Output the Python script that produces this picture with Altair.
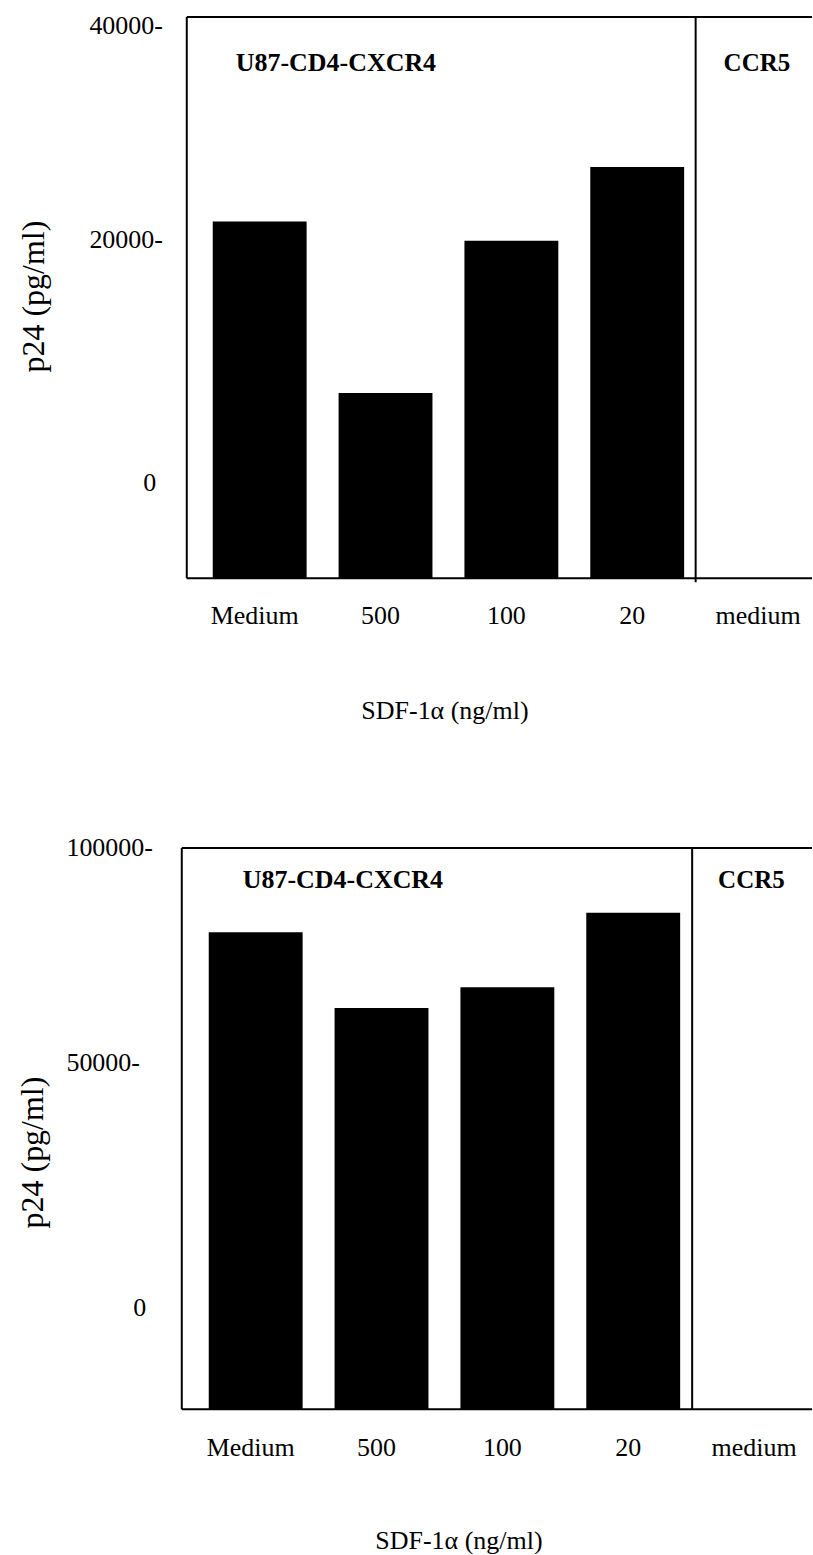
import altair as alt
import pandas as pd

# ---- data ----
CATEGORIES = ["Medium", "500", "100", "20", "medium"]
BAR_CATEGORIES = ["Medium", "500", "100", "20"]
TOP_P24 = [21700, 5700, 19900, 26800]
BOTTOM_P24 = [80400, 62800, 67600, 84900]
TOP_TICKS = [0, 20000, 40000]
TOP_TICK_LABELS = ["0", "20000-", "40000-"]
BOTTOM_TICKS = [0, 50000, 100000]
BOTTOM_TICK_LABELS = ["0", "50000-", "100000-"]
PANEL_LABELS = ["U87-CD4-CXCR4", "CCR5"]
X_TITLE = "SDF-1\u03b1 (ng/ml)"
Y_TITLE = "p24 (pg/ml)"

FONT = "Liberation Serif"
W = 631
H = 562
DUMMY = pd.DataFrame({"k": [0]})


def label_expr(ticks, labels):
    expr = "''"
    for t, l in zip(ticks, labels):
        expr = f"datum.value == {t} ? '{l}' : ({expr})"
    return expr


def rule(**enc):
    return alt.Chart(DUMMY).mark_rule(color="black", strokeWidth=2).encode(
        **{k: alt.value(v) for k, v in enc.items()}
    )


def text(label, x, y, size):
    return alt.Chart(DUMMY).mark_text(
        text=label, font=FONT, fontSize=size, fontWeight="bold",
        align="left", baseline="alphabetic", color="black",
    ).encode(x=alt.value(x), y=alt.value(y))


def panel(values, ticks, labels, domain, x_range, xlab_offset, xlab_pad,
          xtitle_xy, ytitle_xy, ylab_pad, zero_pad, zero_offset,
          border_x, divider_x, divider_bottom, label_xy, anchor=False):
    df = pd.DataFrame({"cond": BAR_CATEGORIES, "p24": values})
    x = alt.X(
        "cond:N", sort=CATEGORIES,
        scale=alt.Scale(domain=CATEGORIES, range=x_range,
                        paddingInner=0.254, paddingOuter=0.127),
        axis=alt.Axis(
            domain=False, ticks=False, tickSize=0, grid=False, labelAngle=0,
            labelFont=FONT, labelFontSize=26, labelColor="black",
            labelPadding=xlab_pad, labelBaseline="alphabetic",
            labelOffset=xlab_offset,
            title=X_TITLE, titleFont=FONT, titleFontSize=26,
            titleFontWeight="normal", titleColor="black",
            titleX=xtitle_xy[0], titleY=xtitle_xy[1],
            titleAlign="center", titleBaseline="alphabetic",
        ),
    )
    y = alt.Y(
        "p24:Q",
        scale=alt.Scale(domain=domain, nice=False, zero=False),
        axis=alt.Axis(
            values=ticks, labelExpr=label_expr(ticks, labels),
            domain=False, ticks=False, tickSize=0, grid=False,
            labelFont=FONT, labelFontSize=26, labelColor="black",
            labelAlign="left", labelBaseline="middle", labelOverlap=False,
            labelPadding={"condition": {"test": "datum.value == 0", "value": zero_pad},
                          "value": ylab_pad},
            labelOffset={"condition": {"test": "datum.value == 0", "value": zero_offset},
                         "value": 0},
            title=Y_TITLE, titleFont=FONT, titleFontSize=32,
            titleFontWeight="normal", titleColor="black", titleAngle=270,
            titleX=ytitle_xy[0], titleY=ytitle_xy[1],
            titleAlign="center", titleBaseline="alphabetic",
        ),
    )
    # bars rise from the bottom edge of the plot frame
    bars = alt.Chart(df).mark_bar(color="black").encode(
        x=x, y=y, y2=alt.datum(domain[0])
    )
    layers = [
        bars,
        rule(x=border_x, y=0, y2=H),              # left border
        rule(x=border_x, x2=W, y=0),              # top border
        rule(x=border_x, x2=W, y=H),              # bottom line
        rule(x=divider_x, y=0, y2=divider_bottom),  # divider before CCR5
        text(PANEL_LABELS[0], label_xy[0][0], label_xy[0][1], 26),
        text(PANEL_LABELS[1], label_xy[1][0], label_xy[1][1], 25),
    ]
    if anchor:
        layers.append(
            alt.Chart(DUMMY).mark_rule(color="white", strokeWidth=1).encode(
                x=alt.value(-181.5), y=alt.value(-15.5), y2=alt.value(-14.5)
            )
        )
    return alt.layer(*layers).properties(width=W, height=H)


top = panel(
    TOP_P24, TOP_TICKS, TOP_TICK_LABELS, [-11600, 40800],
    x_range=[15, 645], xlab_offset=-5, xlab_pad=45,
    xtitle_xy=(263, 140), ytitle_xy=(-138, 279.5),
    ylab_pad=93, zero_pad=39, zero_offset=29,
    border_x=5, divider_x=514.5, divider_bottom=566,
    label_xy=((54, 54), (542.5, 54)), anchor=True,
)

bottom = panel(
    BOTTOM_P24, BOTTOM_TICKS, BOTTOM_TICK_LABELS, [-30500, 100000],
    x_range=[11, 641], xlab_offset=-5, xlab_pad=46,
    xtitle_xy=(277, 139), ytitle_xy=(-139, 304.5),
    ylab_pad=116, zero_pad=49, zero_offset=30,
    border_x=0, divider_x=511, divider_bottom=H,
    label_xy=((61, 40), (537, 40)),
)

chart = (
    alt.vconcat(
        top, bottom, spacing=270, bounds="flush",
        padding={"left": 0, "top": 0, "right": 0, "bottom": 0},
    )
    .configure(font=FONT)
    .configure_axis(labelFont=FONT, titleFont=FONT)
    .configure_view(strokeWidth=0)
)

chart.save("out.html", embed_options={"renderer": "svg", "actions": False})
